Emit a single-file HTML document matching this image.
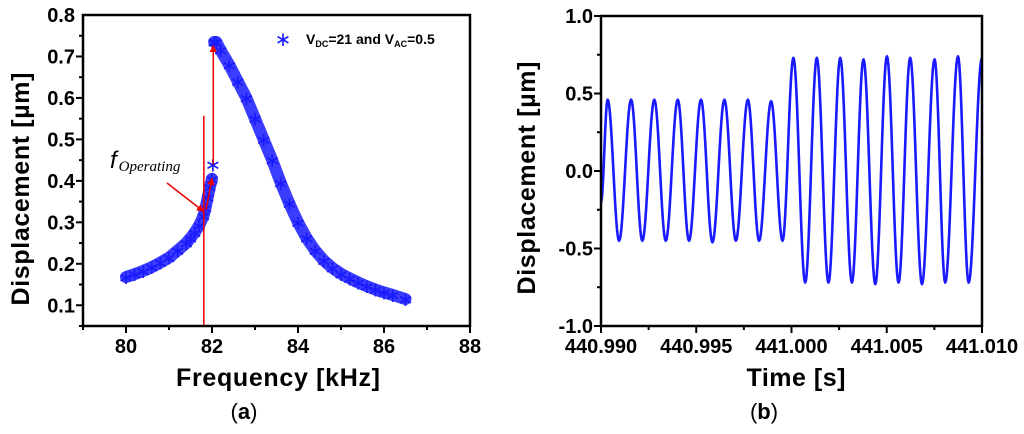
<!DOCTYPE html>
<html><head><meta charset="utf-8"><style>
html,body{margin:0;padding:0;background:#fff;width:1024px;height:434px;overflow:hidden}
svg text{font-family:"Liberation Sans",sans-serif}
</style></head><body>
<svg id="fig" width="1024" height="434" viewBox="0 0 1024 434" xmlns="http://www.w3.org/2000/svg">
<defs>
<marker id="ah" markerWidth="5" markerHeight="5" refX="4" refY="2.5" orient="auto" markerUnits="strokeWidth"><path d="M0,0 L5,2.5 L0,5 z" fill="#e00"/></marker>
</defs>
<g id="pa"></g>
<g id="pb"></g>
</svg>
<script>
// Panel (a) data
const freqA = [80.0,80.2,80.4,80.6,80.8,81.0,81.2,81.4,81.5,81.6,81.7,81.8,81.85,81.9,81.95,82.0];
const dispA = [0.168,0.175,0.183,0.192,0.203,0.215,0.232,0.250,0.262,0.276,0.292,0.315,0.335,0.36,0.385,0.405];
const freqA2 = [82.05,82.1,82.2,82.4,82.6,82.8,83.0,83.2,83.4,83.6,83.8,84.0,84.2,84.4,84.6,84.8,85.0,85.2,85.4,85.6,85.8,86.0,86.2,86.5];
const dispA2 = [0.735,0.735,0.715,0.68,0.64,0.60,0.55,0.50,0.45,0.395,0.345,0.30,0.262,0.232,0.208,0.19,0.176,0.165,0.155,0.146,0.138,0.131,0.125,0.115];
const jumpPoint = [82.02, 0.44];
const xTicksA = [80,82,84,86,88];
const yTicksA = [0.1,0.2,0.3,0.4,0.5,0.6,0.7,0.8];
// Panel (b) data: extrema of displacement signal
const timeB = [440.990,440.99035,440.99095,440.99158,440.99217,440.99280,440.99340,440.99403,440.99462,440.99525,440.99585,440.99648,440.99708,440.99771,440.99830,440.99893,440.99953,441.00010,441.00072,441.00133,441.00194,441.00256,441.00317,441.00378,441.00440,441.00501,441.00562,441.00623,441.00685,441.00751,441.00807,441.00874,441.00930,441.010];
const dispB = [-0.2,0.46,-0.45,0.46,-0.45,0.46,-0.45,0.46,-0.45,0.46,-0.46,0.46,-0.45,0.46,-0.45,0.45,-0.45,0.73,-0.72,0.73,-0.72,0.73,-0.72,0.72,-0.73,0.74,-0.72,0.73,-0.73,0.72,-0.72,0.74,-0.72,0.73];
const xTicksB = ["440.990","440.995","441.000","441.005","441.010"];
const yTicksB = ["-1.0","-0.5","0.0","0.5","1.0"];

const NS="http://www.w3.org/2000/svg";
function mk(parent,tag,attrs,text){const e=document.createElementNS(NS,tag);for(const k in attrs)e.setAttribute(k,attrs[k]);if(text!==undefined)e.textContent=text;parent.appendChild(e);return e;}
const BLUE="#1a1aff";

// ---------- Panel A ----------
(function(){
const g=document.getElementById('pa');
const L=83,R=470,T=15,B=326;
const x=v=>L+(v-79)/(88-79)*(R-L);
const y=v=>B-(v-0.05)/(0.8-0.05)*(B-T);
for(let v=79;v<=88;v+=1){const major=(v%2===0);const t=mk(g,'line',{x1:x(v),x2:x(v),y1:B,y2:B+(major?7:4),stroke:'#000','stroke-width':2});
}
xTicksA.forEach(v=>{const t=mk(g,'text',{x:x(v),y:353,'text-anchor':'middle','font-size':20,'font-weight':'bold'},String(v));
});
for(let i=1;i<=15;i++){const v=0.05*i;const major=(i%2===0);const t=mk(g,'line',{x1:L-(major?7:4),x2:L,y1:y(v),y2:y(v),stroke:'#000','stroke-width':2});
}
yTicksA.forEach(v=>{const t=mk(g,'text',{x:75,y:y(v)+7,'text-anchor':'end','font-size':20,'font-weight':'bold'},v.toFixed(1));
});
function drawSeries(fs,ds,name){
 const pts=fs.map((f,i)=>x(f)+','+y(ds[i])).join(' ');
 const p=mk(g,'polyline',{points:pts,fill:'none',stroke:BLUE,'stroke-width':12,'stroke-linejoin':'round','stroke-linecap':'round',opacity:0.85});
 
 fs.forEach((f,i)=>{const m=mk(g,'text',{x:x(f),y:y(ds[i])+7,'text-anchor':'middle','font-size':20,fill:BLUE},'\u2217');
 });
}
drawSeries(freqA,dispA,'lower-branch-series');
drawSeries(freqA2,dispA2,'upper-branch-series');
const jp=mk(g,'text',{x:x(jumpPoint[0]),y:y(jumpPoint[1])+7,'text-anchor':'middle','font-size':20,fill:BLUE},'\u2217');

const v1=mk(g,'line',{x1:x(81.81),x2:x(81.81),y1:y(0.557),y2:B,stroke:'#e00','stroke-width':1.5});

const v2=mk(g,'line',{x1:x(82.03),x2:x(82.03),y1:y(0.44),y2:y(0.725),stroke:'#e00','stroke-width':1.5,'marker-end':'url(#ah)'});

const v3=mk(g,'line',{x1:x(81.86),x2:x(82.0),y1:y(0.33),y2:y(0.405),stroke:'#e00','stroke-width':1.5,'marker-end':'url(#ah)'});

const v4=mk(g,'line',{x1:167,x2:203,y1:183,y2:211,stroke:'#e00','stroke-width':1.5,'marker-end':'url(#ah)'});

const fl=mk(g,'text',{x:110,y:168,'font-size':24,'font-style':'italic','font-family':'"Liberation Serif",serif'});

fl.innerHTML='f<tspan font-size="15" dy="3" dx="2" font-family="Liberation Serif, serif">Operating</tspan>';
const fr=mk(g,'rect',{x:L,y:T,width:R-L,height:B-T,fill:'none',stroke:'#000','stroke-width':2.5});

const lm=mk(g,'text',{x:283,y:46,'text-anchor':'middle','font-size':20,fill:BLUE},'\u2217');

const lt=mk(g,'text',{x:306,y:44,'font-size':14,'font-weight':'bold'});

lt.innerHTML='V<tspan font-size="9" dy="3">DC</tspan><tspan dy="-3">=21 and V</tspan><tspan font-size="9" dy="3">AC</tspan><tspan dy="-3">=0.5</tspan>';
const xt=mk(g,'text',{x:278,y:386,'text-anchor':'middle','font-size':25,'font-weight':'bold',textLength:204},'Frequency [kHz]');

const yt=mk(g,'text',{x:0,y:0,'text-anchor':'middle','font-size':25,'font-weight':'bold',textLength:233,transform:'translate(29,189) rotate(-90)'},'Displacement [\u00b5m]');

const cap=mk(g,'text',{x:244,y:419,'text-anchor':'middle','font-size':22,'font-family':'"Liberation Serif",serif'});

cap.innerHTML='(<tspan font-weight="bold">a</tspan>)';
})();

// ---------- Panel B ----------
(function(){
const g=document.getElementById('pb');
const L=601,R=982,T=16,B=326;
const x=v=>L+(v-440.990)/(0.020)*(R-L);
const y=v=>B-(v+1)/2*(B-T);
for(let i=0;i<=8;i++){const v=440.990+i*0.0025;const major=(i%2===0);const t=mk(g,'line',{x1:x(v),x2:x(v),y1:B,y2:B+(major?7:4),stroke:'#000','stroke-width':2});
}
xTicksB.forEach(s=>{const t=mk(g,'text',{x:x(parseFloat(s)),y:353,'text-anchor':'middle','font-size':20,'font-weight':'bold'},s);
});
for(let i=0;i<=8;i++){const v=-1+i*0.25;const major=(i%2===0);const t=mk(g,'line',{x1:L-(major?7:4),x2:L,y1:y(v),y2:y(v),stroke:'#000','stroke-width':2});
}
yTicksB.forEach(s=>{const t=mk(g,'text',{x:593,y:y(parseFloat(s))+7,'text-anchor':'end','font-size':20,'font-weight':'bold'},s);
});
let d='';
for(let i=0;i<timeB.length-1;i++){
 const t0=timeB[i],t1=timeB[i+1],v0=dispB[i],v1=dispB[i+1];
 for(let k=0;k<=16;k++){const s=k/16;const tt=t0+(t1-t0)*s;const vv=v0+(v1-v0)*(1-Math.cos(Math.PI*s))/2;
  d+=(d?'L':'M')+x(tt).toFixed(2)+','+y(vv).toFixed(2);}
}
const p=mk(g,'path',{d:d,fill:'none',stroke:BLUE,'stroke-width':2.6,'stroke-linejoin':'round'});

const fr=mk(g,'rect',{x:L,y:T,width:R-L,height:B-T,fill:'none',stroke:'#000','stroke-width':2.5});

const xt=mk(g,'text',{x:796,y:386,'text-anchor':'middle','font-size':25,'font-weight':'bold',textLength:99},'Time [s]');

const yt=mk(g,'text',{x:0,y:0,'text-anchor':'middle','font-size':25,'font-weight':'bold',textLength:233,transform:'translate(535,178) rotate(-90)'},'Displacement [\u00b5m]');

const cap=mk(g,'text',{x:764,y:419,'text-anchor':'middle','font-size':22,'font-family':'"Liberation Serif",serif'});

cap.innerHTML='(<tspan font-weight="bold">b</tspan>)';
})();
</script>
</body></html>
